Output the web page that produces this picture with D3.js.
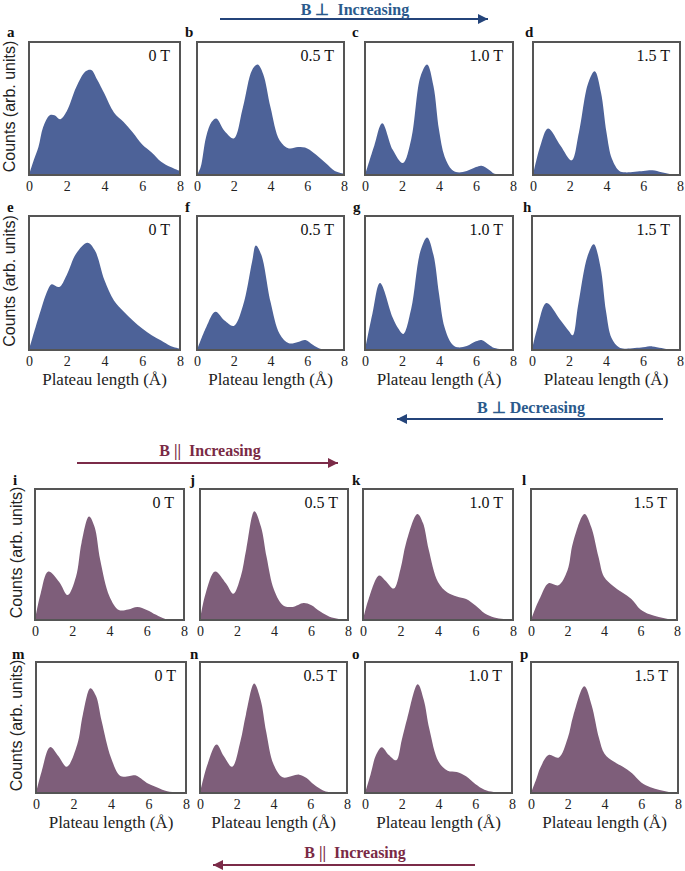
<!DOCTYPE html>
<html>
<head>
<meta charset="utf-8">
<script src="https://cdn.jsdelivr.net/npm/d3@7/dist/d3.min.js"></script>
<style>
  html, body { margin: 0; padding: 0; background: #fff; }
  svg { display: block; }
</style>
</head>
<body>
<svg id="chart" width="685" height="871"></svg>
<script>
// ---------------- DATA ----------------
const xTicks = [0, 2, 4, 6, 8];
const fieldLabels = ["0 T", "0.5 T", "1.0 T", "1.5 T"];
const panelLetters = ["a","b","c","d","e","f","g","h","i","j","k","l","m","n","o","p"];
const yLabel = "Counts (arb. units)";
const xLabel = "Plateau length (Å)";
const arrowTexts = ["B \u22A5  Increasing", "B \u22A5 Decreasing", "B ||  Increasing", "B ||  Increasing"];

// B perpendicular increasing (a-d)
const panelA = [[0,0],[0.25,0.11],[0.5,0.21],[0.75,0.36],[1.1,0.45],[1.35,0.45],[1.65,0.42],[2,0.48],[2.5,0.66],[3,0.78],[3.3,0.79],[3.6,0.72],[4,0.61],[4.5,0.47],[5,0.40],[5.5,0.32],[6,0.23],[6.5,0.17],[7,0.10],[7.5,0.06],[8,0.03]];
const panelB = [[0,0],[0.2,0.06],[0.5,0.29],[0.8,0.40],[1.05,0.425],[1.5,0.33],[2,0.275],[2.5,0.51],[3,0.79],[3.3,0.83],[3.6,0.76],[4,0.51],[4.5,0.26],[5,0.20],[5.5,0.21],[6,0.20],[6.5,0.15],[7,0.09],[7.5,0.03],[8,0.01]];
const panelC = [[0,0],[0.5,0.22],[0.93,0.39],[1.5,0.19],[2.05,0.09],[2.5,0.27],[3,0.74],[3.36,0.83],[3.7,0.67],[4,0.34],[4.3,0.14],[4.7,0.04],[5,0.02],[5.5,0.03],[6,0.06],[6.3,0.07],[6.7,0.04],[7,0.01],[8,0]];
const panelD = [[0,0],[0.4,0.22],[0.82,0.35],[1.5,0.22],[2.1,0.11],[2.5,0.32],[3,0.69],[3.36,0.78],[3.7,0.62],[4,0.32],[4.3,0.12],[4.7,0.03],[5,0.02],[6,0.03],[6.5,0.035],[7,0.02],[7.5,0.005],[8,0]];
// B perpendicular decreasing (e-h)
const panelE = [[0,0],[0.5,0.24],[1,0.45],[1.2,0.49],[1.6,0.47],[2,0.56],[2.5,0.72],[3.1,0.80],[3.5,0.74],[4,0.52],[4.5,0.37],[5,0.29],[5.5,0.22],[6,0.16],[6.5,0.11],[7,0.07],[7.5,0.03],[8,0.01]];
const panelF = [[0,0],[0.5,0.17],[1,0.285],[1.5,0.22],[2,0.18],[2.5,0.33],[3,0.66],[3.2,0.78],[3.5,0.71],[4,0.36],[4.5,0.12],[5,0.05],[5.5,0.06],[5.9,0.075],[6.3,0.04],[6.7,0.01],[7,0.005],[8,0]];
const panelG = [[0,0],[0.4,0.27],[0.81,0.50],[1.5,0.24],[1.8,0.16],[2.07,0.12],[2.5,0.31],[3,0.74],[3.36,0.84],[3.7,0.71],[4,0.42],[4.3,0.17],[4.7,0.045],[5,0.02],[5.5,0.03],[6,0.065],[6.3,0.075],[6.7,0.04],[7,0.015],[8,0]];
const panelH = [[0,0],[0.3,0.17],[0.78,0.35],[1.5,0.23],[2,0.14],[2.2,0.11],[2.5,0.34],[3,0.70],[3.34,0.79],[3.7,0.62],[4,0.29],[4.3,0.09],[4.7,0.02],[5,0.01],[6,0.02],[6.5,0.027],[7,0.015],[7.5,0.003],[8,0]];
// B parallel increasing (i-l)
const panelI = [[0,0],[0.3,0.20],[0.71,0.37],[1.3,0.29],[1.75,0.19],[2.2,0.33],[2.5,0.59],[2.9,0.79],[3.2,0.71],[3.5,0.46],[4,0.18],[4.5,0.077],[5,0.08],[5.5,0.10],[6,0.077],[6.5,0.04],[7,0.008],[8,0]];
const panelJ = [[0,0],[0.3,0.20],[0.81,0.37],[1.4,0.28],[1.8,0.20],[2.2,0.33],[2.5,0.54],[2.94,0.83],[3.3,0.71],[3.6,0.48],[4,0.23],[4.5,0.11],[5,0.10],[5.6,0.13],[6,0.115],[6.5,0.064],[7,0.025],[7.5,0.008],[8,0]];
const panelK = [[0,0],[0.3,0.16],[0.86,0.34],[1.2,0.30],[1.64,0.24],[2,0.39],[2.3,0.59],[2.9,0.81],[3.2,0.74],[3.5,0.54],[4,0.29],[4.5,0.21],[5,0.18],[5.5,0.16],[6,0.11],[6.5,0.05],[7,0.02],[7.5,0.008],[8,0]];
const panelL = [[0,0],[0.3,0.11],[0.5,0.17],[0.96,0.28],[1.5,0.265],[2,0.38],[2.3,0.59],[2.93,0.81],[3.3,0.71],[3.7,0.48],[4,0.33],[4.5,0.26],[5,0.21],[5.5,0.16],[6,0.08],[6.5,0.043],[7,0.023],[7.5,0.008],[8,0]];
// B parallel (m-p)
const panelM = [[0,0],[0.3,0.165],[0.75,0.35],[1.2,0.28],[1.64,0.20],[2.2,0.37],[2.5,0.60],[2.9,0.80],[3.2,0.74],[3.5,0.55],[4,0.27],[4.5,0.13],[5,0.13],[5.3,0.135],[5.7,0.10],[6,0.07],[6.5,0.04],[7,0.013],[8,0]];
const panelN = [[0,0],[0.4,0.215],[0.9,0.37],[1.3,0.28],[1.75,0.20],[2.2,0.395],[2.5,0.60],[2.95,0.835],[3.3,0.71],[3.6,0.47],[4,0.22],[4.5,0.12],[5,0.13],[5.4,0.14],[5.8,0.115],[6.2,0.064],[6.7,0.02],[7,0.008],[8,0]];
const panelO = [[0,0],[0.3,0.14],[0.6,0.29],[0.91,0.35],[1.3,0.29],[1.7,0.25],[2,0.405],[2.3,0.57],[2.87,0.83],[3.2,0.71],[3.5,0.49],[4,0.24],[4.5,0.17],[5,0.16],[5.5,0.127],[6,0.068],[6.5,0.025],[7,0.008],[8,0]];
const panelP = [[0,0],[0.3,0.11],[0.5,0.19],[0.96,0.29],[1.5,0.27],[2,0.42],[2.3,0.59],[2.9,0.815],[3.3,0.67],[3.7,0.42],[4,0.30],[4.5,0.24],[5,0.20],[5.5,0.15],[6,0.08],[6.5,0.043],[7,0.023],[7.5,0.008],[8,0]];

const panelSeries = [panelA,panelB,panelC,panelD,panelE,panelF,panelG,panelH,panelI,panelJ,panelK,panelL,panelM,panelN,panelO,panelP];

// ---------------- LAYOUT ----------------
const svg = d3.select("#chart");
const SERIF = '"Liberation Serif"';
const SANS = '"Liberation Sans"';
const blueFill = "#4d6298";
const purpleFill = "#7e5e7a";

const rows = [
  { top: 42,  bottom: 175, cols: [[29,180],[197,344],[365,513],[533,680]], fill: blueFill,   xlab: false, ylabX: 9,  letterY: 37 },
  { top: 216, bottom: 350, cols: [[29,180],[197,344],[365,513],[532,680]], fill: blueFill,   xlab: true,  ylabX: 9,  letterY: 212 },
  { top: 489, bottom: 620, cols: [[35,184],[200,348],[363,513],[531,677]], fill: purpleFill, xlab: false, ylabX: 16, letterY: 485 },
  { top: 662, bottom: 793, cols: [[36,186],[200,347],[365,512],[531,678]], fill: purpleFill, xlab: true,  ylabX: 16, letterY: 659 }
];
const letterX = [[7,185,352,525],[7,185,353,523],[13,190,352,522],[12,190,352,520]];

rows.forEach((row, ri) => {
  svg.append("text")
    .attr("transform", `translate(${row.ylabX + 6},${(row.top + row.bottom) / 2 - 2}) rotate(-90)`)
    .attr("text-anchor", "middle")
    .style("font-family", SANS).style("font-size", "16px").attr("fill", "#222")
    .text(yLabel);

  row.cols.forEach((c, ci) => {
    const idx = ri * 4 + ci;
    const data = panelSeries[idx];
    const x = d3.scaleLinear().domain([0, 8]).range([c[0], c[1]]);
    const y = d3.scaleLinear().domain([0, 1]).range([row.bottom, row.top]);
    const g = svg.append("g");
    const clipId = "clip" + idx;
    g.append("clipPath").attr("id", clipId)
      .append("rect").attr("x", c[0]).attr("y", row.top).attr("width", c[1] - c[0]).attr("height", row.bottom - row.top);

    const area = d3.area()
      .x(d => x(d[0])).y0(y(0)).y1(d => y(d[1]))
      .curve(d3.curveCatmullRom.alpha(0.5));
    g.append("path").datum(data)
      .attr("clip-path", `url(#${clipId})`)
      .attr("d", area).attr("fill", row.fill);

    g.append("rect")
      .attr("x", c[0]).attr("y", row.top)
      .attr("width", c[1] - c[0]).attr("height", row.bottom - row.top)
      .attr("fill", "none").attr("stroke", "#555").attr("stroke-width", 2);

    const ax = g.append("g").attr("transform", `translate(0,${row.bottom})`)
      .call(d3.axisBottom(x).tickValues(xTicks).tickSize(0).tickPadding(6).tickFormat(d3.format("d")));
    ax.select(".domain").remove();
    ax.selectAll("text").style("font-family", SERIF).style("font-size", "14px").attr("fill", "#222");

    g.append("text")
      .attr("x", c[1] - 10).attr("y", row.top + 19)
      .attr("text-anchor", "end")
      .style("font-family", SERIF).style("font-size", "16px").attr("fill", "#111")
      .text(fieldLabels[ci]);

    svg.append("text")
      .attr("x", letterX[ri][ci]).attr("y", row.letterY)
      .style("font-family", SERIF).style("font-weight", "bold").style("font-size", "15px").attr("fill", "#111")
      .text(panelLetters[idx]);

    if (row.xlab) {
      g.append("text")
        .attr("x", (c[0] + c[1]) / 2).attr("y", row.bottom + 35)
        .attr("text-anchor", "middle")
        .style("font-family", SERIF).style("font-size", "17px").attr("fill", "#222")
        .text(xLabel);
    }
  });
});

// ---------------- ARROWS ----------------
const defs = svg.append("defs");
function marker(id, color) {
  defs.append("marker").attr("id", id)
    .attr("viewBox", "0 0 10 10").attr("refX", 10).attr("refY", 5)
    .attr("markerUnits", "userSpaceOnUse")
    .attr("markerWidth", 14).attr("markerHeight", 10).attr("orient", "auto")
    .append("path").attr("d", "M0,0 L10,5 L0,10 Z").attr("fill", color);
}
marker("headBlue", "#24447a");
marker("headPurple", "#7b2b48");

const arrows = [
  { x1: 220, x2: 488, y: 19,  tx: 355, ty: 15,  color: "#24447a", tcolor: "#2a5a8c", marker: "headBlue" },
  { x1: 663, x2: 397, y: 419, tx: 531, ty: 413, color: "#24447a", tcolor: "#2a5a8c", marker: "headBlue" },
  { x1: 77,  x2: 338, y: 463, tx: 210, ty: 456, color: "#7b2b48", tcolor: "#7a2a45", marker: "headPurple" },
  { x1: 475, x2: 213, y: 865, tx: 355, ty: 858, color: "#7b2b48", tcolor: "#7a2a45", marker: "headPurple" }
];
arrows.forEach((a, i) => {
  svg.append("line")
    .attr("x1", a.x1).attr("x2", a.x2).attr("y1", a.y).attr("y2", a.y)
    .attr("stroke", a.color).attr("stroke-width", 2)
    .attr("marker-end", `url(#${a.marker})`);
  svg.append("text")
    .attr("x", a.tx).attr("y", a.ty)
    .attr("text-anchor", "middle")
    .style("font-family", SERIF).style("font-weight", "bold").style("font-size", "16px").attr("fill", a.tcolor)
    .style("white-space", "pre")
    .text(arrowTexts[i]);
});
</script>
</body>
</html>
